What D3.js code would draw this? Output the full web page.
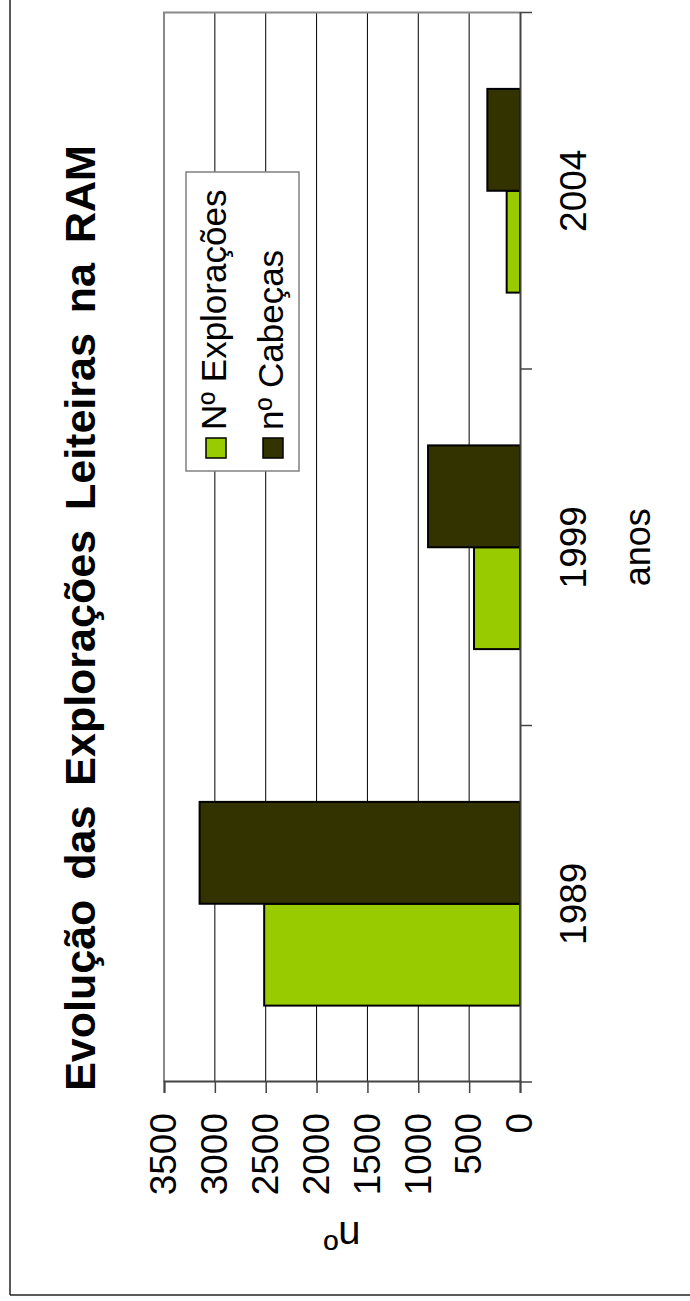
<!DOCTYPE html>
<html><head><meta charset="utf-8">
<script src="https://cdn.jsdelivr.net/npm/d3@7"></script>
<style>
body{margin:0;background:#fff}
svg{display:block}
text{font-family:"Liberation Sans",Arial,Helvetica,sans-serif;fill:#000}
</style>
</head><body>
<svg id="chart" width="690" height="1301"></svg>
<script>
// ---- data ----
const categories = ["1989", "1999", "2004"];
const seriesNames = ["Nº Explorações", "nº Cabeças"];
const exploracoes = [2515, 452, 131];
const cabecas = [3150, 904, 321];
const valueTicks = [0, 500, 1000, 1500, 2000, 2500, 3000, 3500];
const seriesColors = ["#99CC00", "#333300"];
const titleText = "Evolução das Explorações Leiteiras na RAM";
const xTitle = "anos";
const yTitle = "nº";

const series = [exploracoes, cabecas];

const svg = d3.select("#chart");
const W = 1301; // unrotated width (page height)

// outer frame (screen coordinates)
svg.append("line").attr("x1", 10).attr("x2", 10).attr("y1", 0).attr("y2", 1295)
  .attr("stroke", "#222").attr("stroke-width", 1.5);
svg.append("line").attr("x1", 10).attr("x2", 690).attr("y1", 1295).attr("y2", 1295)
  .attr("stroke", "#222").attr("stroke-width", 1.5);

// whole chart is drawn unrotated then rotated -90deg
const g = svg.append("g").attr("transform", `translate(0,${W}) rotate(-90)`);

const plot = {left: 219, right: 1288.5, top: 164, bottom: 520};

const x = d3.scaleBand().domain(categories).range([plot.left, plot.right]).padding(0);
const y = d3.scaleLinear().domain([0, 3500]).range([plot.bottom, plot.top]);
const bw = x.bandwidth() / 3.5;
const inner = d3.scaleBand().domain(d3.range(series.length)).range([0, bw * series.length]);

// gridlines
g.append("g").selectAll("line").data(valueTicks.filter(v => v > 0 && v < 3500)).join("line")
  .attr("x1", plot.left).attr("x2", plot.right)
  .attr("y1", d => y(d)).attr("y2", d => y(d))
  .attr("stroke", "#000").attr("stroke-width", 1);

// plot border (top & right in unrotated frame)
g.append("path")
  .attr("d", `M${plot.left},${y(3500)}H${plot.right}V${plot.bottom}`)
  .attr("fill", "none").attr("stroke", "#8a8a8a").attr("stroke-width", 2);

// bars
series.forEach((vals, si) => {
  g.append("g").selectAll("rect").data(categories).join("rect")
    .attr("x", (c) => x(c) + bw * 0.75 + inner(si))
    .attr("width", bw)
    .attr("y", (c, i) => y(vals[i]))
    .attr("height", (c, i) => y(0) - y(vals[i]))
    .attr("fill", seriesColors[si])
    .attr("stroke", "#000").attr("stroke-width", 2);
});

// value axis
const yAxis = g.append("g").attr("transform", `translate(${plot.left},0)`)
  .call(d3.axisLeft(y).tickValues(valueTicks).tickFormat(d3.format("d")).tickSize(11).tickPadding(20));
yAxis.select(".domain").attr("stroke", "#444").attr("stroke-width", 2);
yAxis.selectAll(".tick line").attr("stroke", "#444").attr("stroke-width", 1.5);
yAxis.selectAll("text").style("font-size", "37px").attr("fill", "#000");

// category axis
const xAxis = g.append("g").attr("transform", `translate(0,${plot.bottom})`)
  .call(d3.axisBottom(x).tickSize(0).tickPadding(40));
xAxis.select(".domain").attr("stroke", "#444").attr("stroke-width", 2);
xAxis.selectAll("text").style("font-size", "37px").attr("fill", "#000");
// boundary ticks
const bounds = categories.map(c => x(c)).concat([x.range()[1]]);
xAxis.selectAll(".btick").data(bounds).join("line").attr("class", "btick")
  .attr("x1", d => d).attr("x2", d => d).attr("y1", 0).attr("y2", 12)
  .attr("stroke", "#444").attr("stroke-width", 1.5);

// axis titles
g.append("text").attr("x", (plot.left + plot.right) / 2).attr("y", 650)
  .attr("text-anchor", "middle").style("font-size", "36px").text(xTitle);
g.append("text").attr("transform", `translate(79,${(plot.top + plot.bottom) / 2}) rotate(-90)`)
  .attr("text-anchor", "middle").style("font-size", "40px").text(yTitle);

// title
g.append("text").attr("x", 683).attr("y", 95)
  .attr("text-anchor", "middle").style("font-size", "43px").style("font-weight", "bold")
  .style("word-spacing", "8px")
  .text(titleText);

// legend
const lg = g.append("g");
lg.append("rect").attr("x", 830).attr("y", 186).attr("width", 299).attr("height", 113)
  .attr("fill", "#fff").attr("stroke", "#808080").attr("stroke-width", 1.5);
seriesNames.forEach((name, i) => {
  const cy = 216 + i * 57;
  lg.append("rect").attr("x", 843).attr("y", cy - 10).attr("width", 20).attr("height", 20)
    .attr("fill", seriesColors[i]).attr("stroke", "#000").attr("stroke-width", 1.5);
  lg.append("text").attr("x", 871).attr("y", cy + 10).style("font-size", "35px").text(name);
});
</script>
</body></html>
